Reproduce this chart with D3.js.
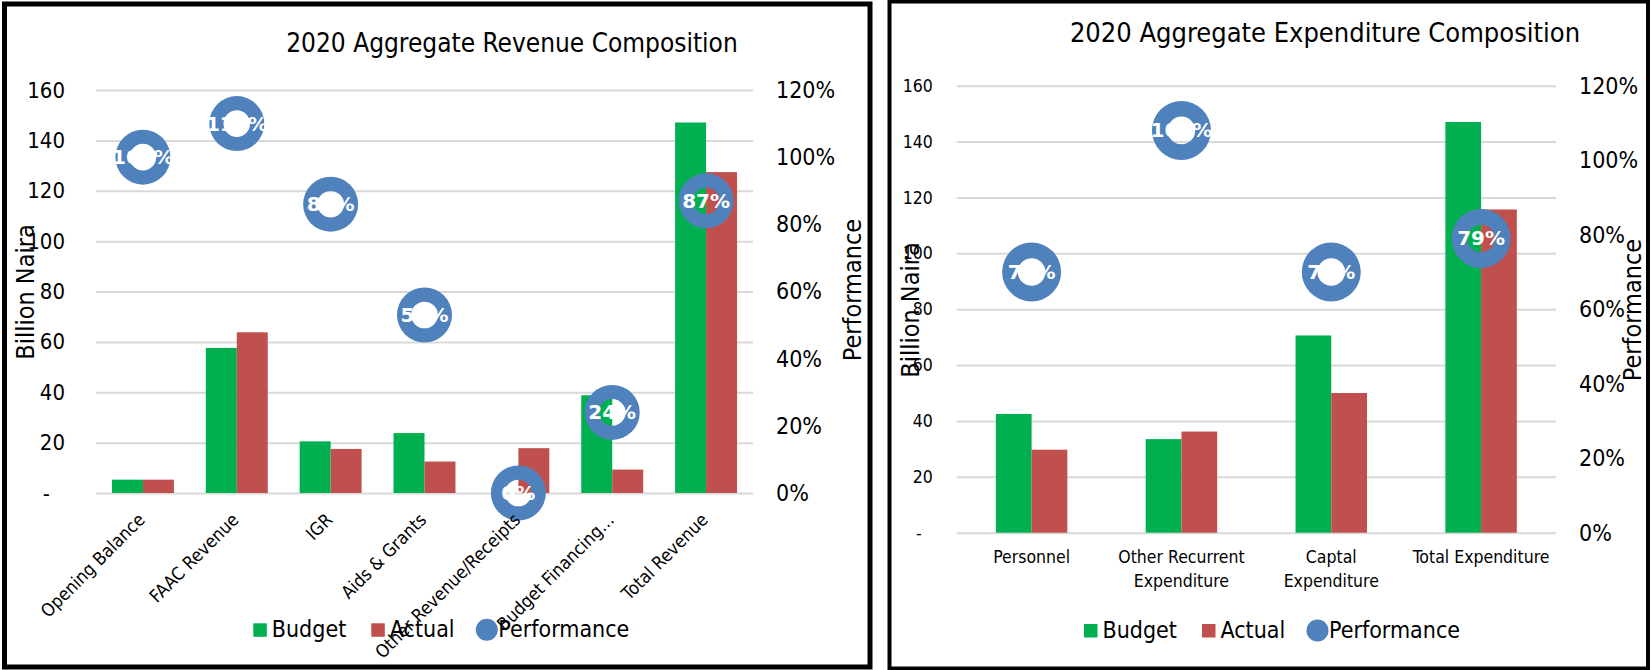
<!DOCTYPE html>
<html>
<head>
<meta charset="utf-8">
<script src="https://cdn.jsdelivr.net/npm/d3@7"></script>
<style>
  body { margin: 0; background: #fff; }
</style>
</head>
<body>
<div id="chart"></div>
<script>
// Data (billion naira, performance = actual / budget)
const seriesNames = ["Budget", "Actual"];
const billionTicks = [0, 20, 40, 60, 80, 100, 120, 140, 160];
const perfTicks = [0, 0.2, 0.4, 0.6, 0.8, 1.0, 1.2];

const revCategories = ["Opening Balance", "FAAC Revenue", "IGR", "Aids & Grants",
  "Other Revenue/Receipts", "Budget Financing…", "Total Revenue"];
const revBudget = [5.3, 57.6, 20.5, 23.8, 0, 38.8, 147.1];
const revActual = [5.3, 63.8, 17.5, 12.5, 17.8, 9.3, 127.4];
const revPerformance = [1.00, 1.10, 0.86, 0.53, 0, 0.24, 0.87];

const expCategories = [["Personnel"], ["Other Recurrent", "Expenditure"],
  ["Captal", "Expenditure"], ["Total Expenditure"]];
const expBudget = [42.5, 33.5, 70.6, 147.0];
const expActual = [29.7, 36.2, 50.0, 115.7];
const expPerformance = [0.70, 1.08, 0.70, 0.79];

const FONT = '"DejaVu Sans Condensed", "DejaVu Sans", sans-serif';
const colors = { Budget: "#00b050", Actual: "#c0504d", Performance: "#4f81bd" };

const svg = d3.select("#chart").append("svg")
    .attr("width", 1651)
    .attr("height", 670)
    .style("font-family", FONT);

function drawPanel(p) {
    const g = svg.append("g");
    const y = d3.scaleLinear().domain([0, 160]).range([p.bottom, p.top]);
    const yPerf = d3.scaleLinear().domain([0, 1.2]).range([p.bottom, p.top]);
    const x = d3.scaleBand()
        .domain(d3.range(p.categories.length))
        .range([p.left, p.right])
        .paddingInner(p.pad)
        .paddingOuter(p.pad / 2);
    const xs = d3.scaleBand().domain(seriesNames).range([0, x.bandwidth()]);

    // kant rundt diagrammet
    g.append("rect")
        .attr("x", p.frame[0]).attr("y", p.frame[1])
        .attr("width", p.frame[2]).attr("height", p.frame[3])
        .attr("fill", "none").attr("stroke", "#000").attr("stroke-width", p.frame[4]);

    g.append("text")
        .attr("x", p.titleX).attr("y", p.titleY).attr("dy", "0.35em")
        .attr("text-anchor", "middle").attr("font-size", p.titleSize)
        .text(p.title);

    // venstre akse + rutenett
    const ya = g.append("g")
        .attr("transform", `translate(${p.left},0)`)
        .call(d3.axisLeft(y).tickValues(billionTicks)
            .tickSize(-(p.right - p.left))
            .tickPadding(p.tickPad)
            .tickFormat(d => d === 0 ? "-" : d));
    ya.attr("font-family", FONT);
    ya.select(".domain").remove();
    ya.selectAll("line").attr("stroke", "#d9d9d9").attr("stroke-width", 2);
    ya.selectAll("text").attr("font-size", p.leftTickSize).attr("fill", "#000");
    ya.selectAll("text").filter(d => d === 0).attr("dx", -p.dashShift);

    // høyre akse
    const pa = g.append("g")
        .attr("transform", `translate(${p.right},0)`)
        .call(d3.axisRight(yPerf).tickValues(perfTicks).tickSize(0)
            .tickPadding(23).tickFormat(d3.format(".0%")));
    pa.attr("font-family", FONT);
    pa.select(".domain").remove();
    pa.selectAll("text").attr("font-size", p.rightTickSize).attr("fill", "#000");

    // søyler
    const values = { Budget: p.budget, Actual: p.actual };
    seriesNames.forEach(s => {
        g.append("g").selectAll("rect")
            .data(values[s])
            .join("rect")
            .attr("x", (d, i) => x(i) + xs(s))
            .attr("y", d => y(d))
            .attr("width", xs.bandwidth())
            .attr("height", d => y(0) - y(d))
            .attr("fill", colors[s]);
    });

    // ytelse som ringer
    const ring = d3.arc().innerRadius(p.hole).outerRadius(p.radius)
        .startAngle(0).endAngle(2 * Math.PI);
    const perf = g.append("g").selectAll("g")
        .data(p.perf)
        .join("g")
        .attr("transform", (d, i) => `translate(${x(i) + x.bandwidth() / 2},${yPerf(d)})`);
    perf.append("path").attr("d", ring()).attr("fill", colors.Performance);
    perf.append("text")
        .attr("text-anchor", "middle").attr("dy", "0.35em")
        .attr("font-family", '"DejaVu Sans", Verdana, sans-serif')
        .attr("font-weight", "bold").attr("font-size", 20)
        .attr("fill", "#fff")
        .text(d => d3.format(".0%")(d));

    // kategorinavn
    const cats = g.append("g").selectAll("text")
        .data(p.categories)
        .join("text")
        .attr("font-size", p.catSize);
    if (p.rotate) {
        cats.attr("text-anchor", "end")
            .attr("transform", (d, i) => `translate(${x(i) + x.bandwidth() / 2 + 3},${p.bottom + 28}) rotate(-45)`)
            .text(d => d);
    } else {
        cats.attr("text-anchor", "middle")
            .selectAll("tspan")
            .data((d, i) => d.map(line => ({ line, i })))
            .join("tspan")
            .attr("x", d => x(d.i) + x.bandwidth() / 2)
            .attr("y", (d, j) => p.bottom + 30 + j * 24)
            .text(d => d.line);
    }

    // aksetitler
    g.append("text")
        .attr("transform", `translate(${p.yTitleX},${p.yTitleY}) rotate(-90)`)
        .attr("text-anchor", "middle").attr("dy", "0.35em").attr("font-size", 25)
        .text("Billion Naira");
    g.append("text")
        .attr("transform", `translate(${p.pTitleX},${p.pTitleY}) rotate(-90)`)
        .attr("text-anchor", "middle").attr("dy", "0.35em").attr("font-size", 25)
        .text("Performance");

    // forklaring
    const legend = g.append("g").attr("transform", `translate(${p.legendX},${p.legendY})`);
    const items = ["Budget", "Actual", "Performance"];
    const offsets = [0, 118, 222.5];
    items.forEach((name, k) => {
        const it = legend.append("g").attr("transform", `translate(${offsets[k]},0)`);
        if (name === "Performance") {
            it.append("circle").attr("cx", 11).attr("cy", 6.5).attr("r", 11).attr("fill", colors[name]);
        } else {
            it.append("rect").attr("width", 13.5).attr("height", 13.5).attr("fill", colors[name]);
        }
        it.append("text")
            .attr("x", name === "Performance" ? 22.5 : 18.5)
            .attr("y", 14)
            .attr("font-size", 23)
            .text(name);
    });
}

drawPanel({
    categories: revCategories, budget: revBudget, actual: revActual, perf: revPerformance,
    rotate: true,
    left: 96, right: 753, top: 90, bottom: 493, pad: 0.34,
    frame: [4.5, 4, 865.5, 663, 5],
    title: "2020 Aggregate Revenue Composition", titleX: 512, titleY: 43, titleSize: 26,
    tickPad: 31, leftTickSize: 22, rightTickSize: 23, dashShift: 15,
    radius: 27.5, hole: 13.3, catSize: 18,
    yTitleX: 25, yTitleY: 292, pTitleX: 852, pTitleY: 290,
    legendX: 253.3, legendY: 623.3
});

drawPanel({
    categories: expCategories, budget: expBudget, actual: expActual, perf: expPerformance,
    rotate: false,
    left: 956.7, right: 1556, top: 85.7, bottom: 532.7, pad: 0.523,
    frame: [889.5, 1.5, 758.5, 667, 4],
    title: "2020 Aggregate Expenditure Composition", titleX: 1325, titleY: 33, titleSize: 27,
    tickPad: 24, leftTickSize: 17.5, rightTickSize: 23, dashShift: 11,
    radius: 29.5, hole: 13.8, catSize: 17.5,
    yTitleX: 910, yTitleY: 310, pTitleX: 1632, pTitleY: 310,
    legendX: 1084, legendY: 624
});
</script>
</body>
</html>
